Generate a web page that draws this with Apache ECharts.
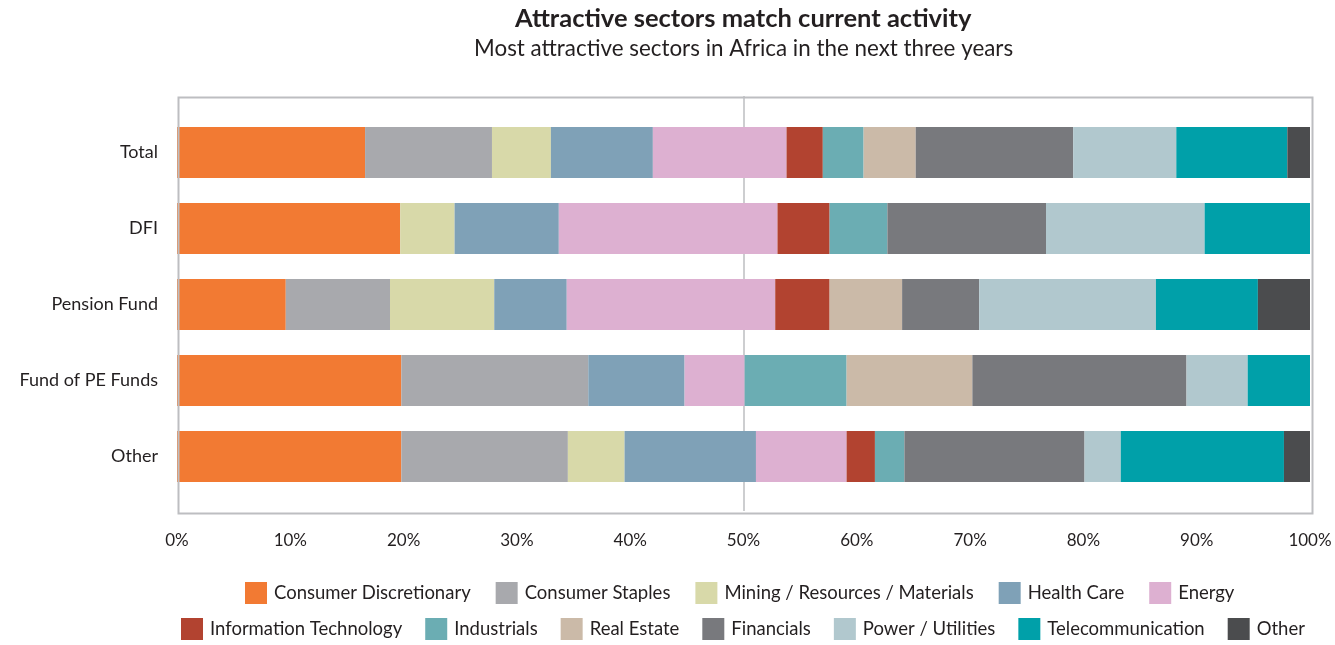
<!DOCTYPE html>
<html>
<head>
<meta charset="utf-8">
<script src="https://cdn.jsdelivr.net/npm/echarts@6/dist/echarts.min.js"></script>
<style>
html,body{margin:0;padding:0;background:#fff;}
#chart{width:1335px;height:645px;}
</style>
</head>
<body>
<div id="chart"></div>
<script>
const categories = ['Total', 'DFI', 'Pension Fund', 'Fund of PE Funds', 'Other'];
const sectorNames = ['Consumer Discretionary', 'Consumer Staples', 'Mining / Resources / Materials', 'Health Care', 'Energy',
  'Information Technology', 'Industrials', 'Real Estate', 'Financials', 'Power / Utilities', 'Telecommunication', 'Other'];
const consumerDiscretionary = [16.6, 19.7, 9.6, 19.8, 19.8];
const consumerStaples       = [11.2, 0, 9.2, 16.5, 14.7];
const mining                = [5.2, 4.8, 9.2, 0, 5.0];
const healthCare            = [9.0, 9.2, 6.4, 8.5, 11.6];
const energy                = [11.8, 19.3, 18.4, 5.3, 8.0];
const infoTech              = [3.2, 4.6, 4.8, 0, 2.5];
const industrials           = [3.6, 5.1, 0, 9.0, 2.6];
const realEstate            = [4.6, 0, 6.4, 11.1, 0];
const financials            = [13.9, 14.0, 6.8, 18.9, 15.9];
const powerUtilities        = [9.1, 14.0, 15.6, 5.4, 3.2];
const telecom               = [9.8, 9.3, 9.0, 5.5, 14.4];
const otherSector           = [2.0, 0, 4.6, 0, 2.3];
const xTicks = [0, 10, 20, 30, 40, 50, 60, 70, 80, 90, 100];

const seriesValues = [consumerDiscretionary, consumerStaples, mining, healthCare, energy,
  infoTech, industrials, realEstate, financials, powerUtilities, telecom, otherSector];
const colors = ['#F27A33', '#A8A9AD', '#D8D9A9', '#7FA1B7', '#DDB0D1',
  '#B24330', '#6BADB3', '#CBBAA8', '#78797D', '#B1C8CE', '#00A0A9', '#4B4C4E'];

const font = 'Lato, "Open Sans", sans-serif';
const textColor = '#231F20';

const chart = echarts.init(document.getElementById('chart'), null, {renderer: 'canvas'});

const series = sectorNames.map((name, i) => ({
  name: name,
  type: 'bar',
  stack: 'total',
  xAxisIndex: 2,
  yAxisIndex: 1,
  barWidth: 51,
  itemStyle: {color: colors[i]},
  emphasis: {disabled: true},
  data: seriesValues[i]
}));

const legendCommon = {
  itemWidth: 22, itemHeight: 22, icon: 'rect',
  textStyle: {fontFamily: font, fontSize: 18.5, color: textColor, padding: [0, 0, 0, 2]},
  selectedMode: false
};

chart.setOption({
  animation: false,
  color: colors,
  title: [
    {text: 'Attractive sectors match current activity', left: 510, top: 1,
     textStyle: {fontFamily: font, fontSize: 25.5, fontWeight: 'bold', color: textColor}},
    {text: 'Most attractive sectors in Africa in the next three years', left: 469, top: 33,
     textStyle: {fontFamily: font, fontSize: 22.4, fontWeight: 'normal', color: textColor}}
  ],
  legend: [
    Object.assign({data: sectorNames.slice(0, 5), left: 240, top: 577, itemGap: 25}, legendCommon),
    Object.assign({data: sectorNames.slice(5), left: 176, top: 613, itemGap: 23}, legendCommon)
  ],
  grid: [
    {left: 177, right: 25, top: 96, height: 415, show: false},
    {left: 177, right: 25, top: 114.5, height: 380, show: false}
  ],
  xAxis: [
    {type: 'value', gridIndex: 0, min: 0, max: 100, interval: 10,
     axisLine: {show: false}, axisTick: {show: false}, splitLine: {show: false},
     axisLabel: {formatter: v => xTicks.includes(v) ? v + '%' : '', fontFamily: font, fontSize: 17, color: textColor, margin: 21}},
    {type: 'value', gridIndex: 0, min: 0, max: 100, interval: 50, position: 'bottom',
     axisLine: {show: false}, axisTick: {show: false}, axisLabel: {show: false},
     splitLine: {show: true, showMinLine: false, showMaxLine: false, lineStyle: {color: '#BDBEC1', width: 1.5}}},
    {type: 'value', gridIndex: 1, min: 0, max: 100, show: false}
  ],
  yAxis: [
    {type: 'category', gridIndex: 0, data: [''], show: false},
    {type: 'category', gridIndex: 1, data: categories, inverse: true,
     axisLine: {show: false}, axisTick: {show: false}, splitLine: {show: false},
     axisLabel: {fontFamily: font, fontSize: 18, color: textColor, margin: 19}}
  ],
  graphic: [
    {type: 'rect', left: 176, top: 95, z: 100, silent: true,
     shape: {x: 0, y: 0, width: 1134, height: 416},
     style: {fill: 'none', stroke: '#BDBEC1', lineWidth: 2}}
  ],
  series: series
});
</script>
</body>
</html>
